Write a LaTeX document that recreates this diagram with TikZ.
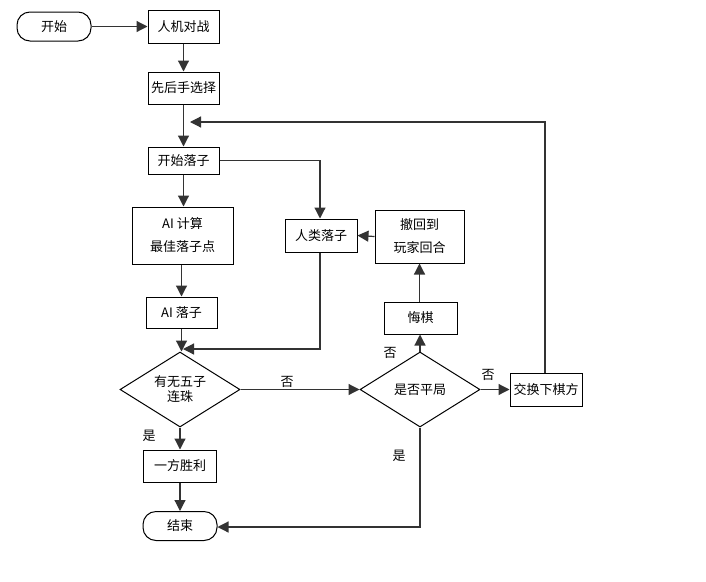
\documentclass[tikz,border=0pt]{standalone}
\usepackage{fontspec}
\setmainfont{Noto Sans CJK SC}
\usetikzlibrary{arrows.meta,shapes.geometric}
\begin{document}
\begin{tikzpicture}[x=1pt,y=-1pt,
  every node/.style={font=\fontsize{13}{15}\selectfont},
  term/.style={draw,line width=1pt,rounded corners=13pt,minimum width=74pt,minimum height=29pt,inner sep=0pt},
  pbox/.style={draw,line width=1pt,inner sep=0pt},
  dia/.style={draw,line width=1pt,diamond,aspect=1.6,minimum width=120pt,minimum height=75pt,inner sep=0pt,align=center},
  arr/.style={line width=1.2pt,draw=black!80,-{Triangle[length=11pt,width=11pt]}},
  lbl/.style={font=\fontsize{13}{15}\selectfont}]
\useasboundingbox (0,0) rectangle (706,581);
\node[term] (st) at (54,26.5) {开始};
\node[pbox,minimum width=71pt,minimum height=33pt] (rj) at (183.5,26.5) {人机对战};
\node[pbox,minimum width=71pt,minimum height=32pt] (xh) at (183.5,88) {先后手选择};
\node[pbox,minimum width=71pt,minimum height=27pt] (ks) at (183.5,160.5) {开始落子};
\node[pbox,minimum width=101pt,minimum height=57pt,align=center] (ai) at (182.5,235.5) {AI 计算\\[8pt]最佳落子点};
\node[pbox,minimum width=72pt,minimum height=33pt] (hl) at (321,235.5) {人类落子};
\node[pbox,minimum width=89pt,minimum height=53pt,align=center] (ch) at (419.5,236.5) {撤回到\\[8pt]玩家回合};
\node[pbox,minimum width=71pt,minimum height=31pt] (al) at (181.5,312.5) {AI 落子};
\node[pbox,minimum width=73pt,minimum height=32pt] (hq) at (420.5,318) {悔棋};
\node[dia] (d1) at (180,389.5) {有无五子\\连珠};
\node[dia] (d2) at (420,389.5) {是否平局};
\node[pbox,minimum width=72pt,minimum height=33pt] (jh) at (546,389.5) {交换下棋方};
\node[pbox,minimum width=73pt,minimum height=32pt] (yf) at (180,466) {一方胜利};
\node[term] (js) at (180,526) {结束};
\coordinate (fb) at (545,122);
\coordinate (fbe) at (190,122);
\coordinate (ksr) at (320,160.5);
\coordinate (hlb) at (320,349);
\coordinate (d1t) at (183,349);
\coordinate (d2b) at (420,527);
\draw[arr] (st) -- (rj);
\draw[arr] (rj) -- (xh);
\draw[arr] (xh) -- (ks);
\draw[arr] (jh.north -| fb) -- (fb) -- (fbe);
\draw[arr] (ks.east) -- (ksr) -- (ksr |- hl.north);
\draw[arr] (ks.south) -- (ks.south |- ai.north);
\draw[arr] (ai.south -| al.north) -- (al.north);
\draw[arr] (al.south) -- (al.south |- d1.north);
\draw[arr] (hl.south -| hlb) -- (hlb) -- (d1t);
\draw[arr] (ch.west) -- (hl.east);
\draw[arr] (hq.north -| ch.south) -- (ch.south);
\draw[arr] (d2.north) -- (d2.north |- hq.south);
\draw[arr] (d1.east) -- (d2.west);
\draw[arr] (d2.east) -- (jh.west);
\draw[arr] (d1.south) -- (yf.north);
\draw[arr] (yf.south) -- (js.north);
\draw[arr] (d2.south) -- (d2b) -- (js.east |- d2b);
\node[lbl] (l1) at (287,382) {否};
\node[lbl] (l2) at (149,436) {是};
\node[lbl] (l3) at (390,353) {否};
\node[lbl] (l4) at (488,375) {否};
\node[lbl] (l5) at (399,456) {是};
\end{tikzpicture}
\end{document}
